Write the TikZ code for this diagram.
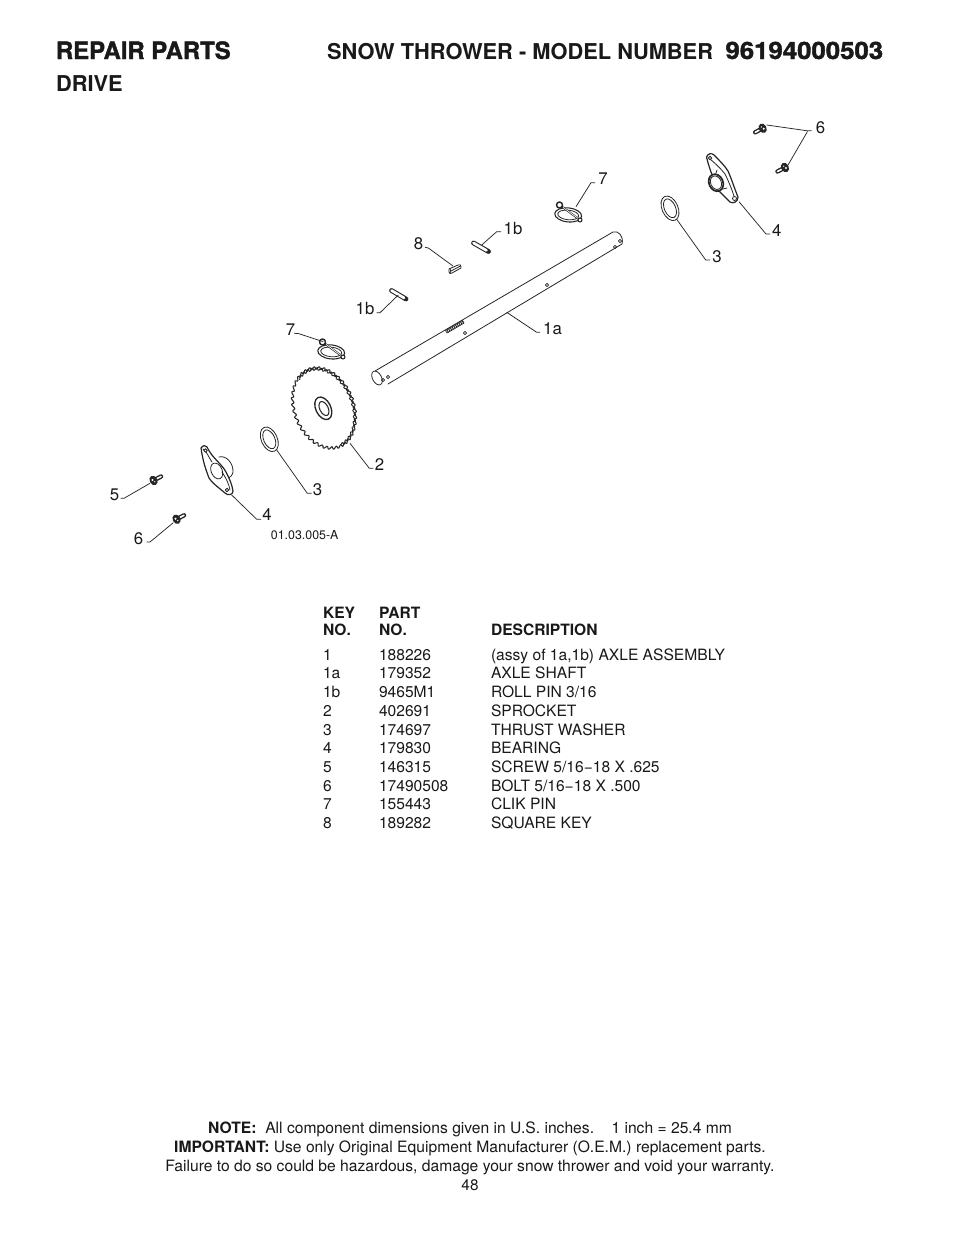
\documentclass[tikz,border=0pt]{standalone}
\usepackage{fontspec}
\usetikzlibrary{calc}
\setmainfont{TeX Gyre Heros}
\newfontfamily\heavy[BoldFeatures={FakeBold=1.6}]{TeX Gyre Heros}
\tikzset{
  part/.style={draw=black!85,line width=0.6pt,line join=round,line cap=round},
  leader/.style={draw=black!85,line width=0.55pt},
  txt/.style={anchor=base west,inner sep=0pt,outer sep=0pt,font=\fontsize{11.7pt}{14pt}\selectfont,text=black!90},
  txtb/.style={txt,font=\fontsize{11.7pt}{14pt}\selectfont\bfseries},
  callout/.style={anchor=center,inner sep=0pt,outer sep=1pt,font=\fontsize{12.6pt}{14pt}\selectfont,text=black!90},
  head/.style={anchor=base west,inner sep=0pt,outer sep=0pt,text=black!90,font=\fontsize{16.37pt}{18pt}\selectfont\bfseries},
  heavyhead/.style={head,font=\fontsize{17.9pt}{18pt}\selectfont\heavy\bfseries},
  foot/.style={anchor=base,inner sep=0pt,outer sep=0pt,text=black!90,font=\fontsize{11.73pt}{14pt}\selectfont},
  clikpin/.pic={
    \draw[part,line width=.8pt,rotate=-6] (-.5,3) ellipse [x radius=13.5,y radius=7];
    \draw[part,rotate=-6] (-.5,3) ellipse [x radius=10.5,y radius=4.8];
    \draw[part,line width=1.4pt] (-8,-6) -- (11,8);
    \draw[white,line width=.5pt] (-6,-4.6) -- (9,6.4);
    \draw[part,fill=white,line width=1.1pt] (-9.5,-7) circle (3);
    \draw[part,fill=white,line width=.8pt] (11,8) circle (2);
  },
  flatbolt/.pic={
    \draw[black!85,line width=3.3pt,line cap=round] (0,0) -- (7.5,-4);
    \draw[white,line width=1.2pt,line cap=round] (3.5,-1.9) -- (7.5,-4);
    \fill[black!85,rotate=28] (0,0) ellipse [x radius=3.8,y radius=5];
    \fill[white] (-1,-.5) circle (1.1);
    \fill[white] (1.3,1.3) circle (.7);
  },
}
\begin{document}
\begin{tikzpicture}[x=0.75pt,y=-0.75pt]
\useasboundingbox (0,0) rectangle (954,1235);
\fill[white] (0,0) rectangle (954,1235);
% headings
\node[heavyhead] (hrepair) at (56,59) {REPAIR PARTS};
\node[head] (hsnow) at (327,59) {SNOW THROWER - MODEL NUMBER};
\node[heavyhead] (hmodel) at (725.5,59) {\scalebox{1.08}[1]{96194000503}};
\node[head] (hdrive) at (56,91) {DRIVE};
% shaft
\draw[part] (375,371) -- (613,232) .. controls (618,230) and (624,236) .. (622,244) -- (388,384);
\draw[part,rotate around={28:(377,378)}] (377,378) ellipse [x radius=4.5,y radius=7.5];
\foreach \hx/\hy in {465/333,547/285,615/247,620/241,388/377,383/380}
  \draw[part,line width=.5pt] (\hx,\hy) circle (1.6);
\draw[part,fill=white,line width=.5pt] (445.5,330.5) -- (462.5,320.5) -- (464,323) -- (447,333) -- cycle;
\foreach \t in {0.08,0.18,...,0.98}
  \draw[part,line width=.7pt] ($(445.5,330.5)!\t!(462.5,320.5)$) -- ++(1.5,2.5);
% sprocket
\draw[part,line width=.8pt] plot[smooth,samples=281,domain=0:360,variable=\t]
  ({324+(29.5*cos(\t))*.927+(41.5*sin(\t))*.375+(1.4*sin(40*\t))*cos(\t)},
   {408-(29.5*cos(\t))*.375+(41.5*sin(\t))*.927+(1.4*sin(40*\t))*sin(\t)});
\draw[part,line width=.7pt] plot[smooth,domain=-115:85,samples=161,variable=\t]
  ({324+(28.5*cos(\t))*.927+(40.5*sin(\t))*.375-(1.4*sin(40*\t))*cos(\t)},
   {408-(28.5*cos(\t))*.375+(40.5*sin(\t))*.927-(1.4*sin(40*\t))*sin(\t)});
\draw[part,line width=1pt,rotate around={26:(323.3,408.3)}] (323.3,408.3) ellipse [x radius=7.5,y radius=12];
\draw[part,line width=.8pt,rotate around={26:(323.3,408.3)}] (323.8,408.8) ellipse [x radius=4.2,y radius=7.5];
% washers
\foreach \wx/\wy in {269.3/439.3,670/208.3}{
  \draw[part,rotate around={24:(\wx,\wy)}] (\wx,\wy) ellipse [x radius=8,y radius=13];
  \draw[part,rotate around={24:(\wx,\wy)}] (\wx,\wy) ellipse [x radius=5.6,y radius=10];
}
% left bearing
\draw[part] (219,457) .. controls (226,455) and (233.5,463) .. (233,472) .. controls (232.5,475) and (230,478) .. (227,479);
\draw[part,line width=.9pt,fill=white] (201,448) .. controls (203,445) and (206,445) .. (207,447)
  .. controls (212,458) and (222,464) .. (226,472) .. controls (229,478) and (232,484) .. (233,491)
  .. controls (233,495) and (228,496) .. (225,493) .. controls (218,487) and (212,483) .. (209,478)
  .. controls (206,470) and (203,462) .. cycle;
\draw[part] (203,449) .. controls (206,450) and (209,458) .. (212,462);
\draw[part] (222,472) .. controls (226,478) and (229,484) .. (230,490);
\draw[part,rotate around={24:(216.7,471)}] (216.7,471) ellipse [x radius=5.5,y radius=8.3];
\draw[part,fill=white] (205.5,450.5) circle (1.8);
\draw[part,fill=white] (227,490) circle (1.8);
% right bearing
\draw[part,line width=.9pt] (706.5,157) .. controls (708,153) and (712,153) .. (714,155)
  .. controls (719,160) and (725,166) .. (728,171) .. controls (732,180) and (735,190) .. (738,197)
  .. controls (738,202) and (733,204) .. (730,202) .. controls (726,198) and (722,194) .. (718,190)
  .. controls (714,180) and (709,168) .. cycle;
\draw[part] (710,159) .. controls (716,164) and (722,170) .. (725,174) .. controls (729,182) and (732,190) .. (734,196);
\draw[part,fill=white,line width=1.3pt,rotate around={24:(716,182.7)}] (716,182.7) ellipse [x radius=7,y radius=8.8];
\draw[part,rotate around={24:(716,182.7)}] (716,182.7) ellipse [x radius=5.3,y radius=7];
\draw[part] (716,173) -- (717,170) (723,189) -- (727,188);
\draw[part,fill=white] (710,158) circle (1.8);
\draw[part,fill=white] (734.5,198.5) circle (2);
% clik pins
\pic at (569,212) {clikpin};
\pic at (332,349) {clikpin};
% roll pins and key
\foreach \ax/\ay/\bx/\by in {473.5/243/488.5/251.5,391.5/290.5/406/299}{
  \draw[line width=3.6pt,black!85,line cap=round] (\ax,\ay) -- (\bx,\by);
  \draw[line width=2pt,white,line cap=round] (\ax,\ay) -- (\bx-2,\by-1.1);
}
\draw[part,fill=white] (449,269) -- (458,265) .. controls (460,264) and (461,265) .. (461,267) -- (461,268)
  -- (452,273) -- (450,273.5) .. controls (449,273) and (448.5,271) .. cycle;
\draw[part] (450,273.5) .. controls (451,272) and (451,270) .. (450,268.5) (451,271) -- (460.5,266);
% screws and bolts
\pic at (153.5,480.5) {flatbolt};
\pic at (176.5,519.3) {flatbolt};
\pic[rotate=180] at (762.7,128.3) {flatbolt};
\pic[rotate=180] at (785,167.5) {flatbolt};
% leader anchors on parts
\coordinate (p6a) at (766.7,125);
\coordinate (p6b) at (788,165);
\coordinate (p4a) at (739,201.7);
\coordinate (p3a) at (676.7,219.3);
\coordinate (p7a) at (576,206.7);
\coordinate (p1ba) at (481.7,245);
\coordinate (p8) at (453,266);
\coordinate (p1bb) at (398.3,295);
\coordinate (p7b) at (323.3,341.7);
\coordinate (p1a) at (506.7,312.3);
\coordinate (p2) at (350,443.3);
\coordinate (p3b) at (276.7,450);
\coordinate (p4b) at (231.7,495);
\coordinate (p5) at (150,483.3);
\coordinate (p6c) at (173.3,522.7);
% callout labels
\node[callout] (l6a) at (820.5,127.5) {6};
\node[callout] (l4a) at (776.7,230.5) {4};
\node[callout] (l3a) at (717,256.5) {3};
\node[callout] (l7a) at (603,178.5) {7};
\node[callout] (l1ba) at (513,228.5) {1b};
\node[callout] (l8) at (418.5,243.5) {8};
\node[callout] (l1bb) at (365,308.5) {1b};
\node[callout] (l7b) at (290.5,329.5) {7};
\node[callout] (l1a) at (552.5,329) {1a};
\node[callout] (l2) at (379.5,464.7) {2};
\node[callout] (l3b) at (317.5,489.5) {3};
\node[callout] (l4b) at (267,515) {4};
\node[callout] (l5) at (114.5,494.5) {5};
\node[callout] (l6c) at (138.5,538.5) {6};
% leaders
\draw[leader] (p6a) -- (806.7,130.7) -- (811.7,130.7);
\draw[leader] (p6b) -- (807.5,131.5);
\draw[leader] (p4a) -- (766,234) -- (770,234);
\draw[leader] (p3a) -- (705.7,260) -- (710,260);
\draw[leader] (p7a) -- (591,182.7) -- (595,182.7);
\draw[leader] (p1ba) -- (496.7,231.7) -- (501,231.7);
\draw[leader] (425,247.3) -- (428.3,248) -- (p8);
\draw[leader] (376.7,312.7) -- (380,312.7) -- (p1bb);
\draw[leader] (294,333.3) -- (298.3,333.5) -- (p7b);
\draw[leader] (p1a) -- (536.7,332.3) -- (540,332.3);
\draw[leader] (p2) -- (369.3,468.3) -- (373.3,468.3);
\draw[leader] (p3b) -- (307.3,493.3) -- (311.7,493.3);
\draw[leader] (p4b) -- (256.7,519.3) -- (261,519.3);
\draw[leader] (120.7,498.3) -- (124,498.3) -- (p5);
\draw[leader] (146.7,542) -- (150,542) -- (p6c);
\node[foot,anchor=center,font=\fontsize{9.3pt}{10pt}\selectfont] (ref) at (304.7,535) {01.03.005-A};
% table
\node[txtb] (kkey) at (323,618) {KEY};
\node[txtb] (kno) at (323,635.6) {NO.};
\node[txtb] (ppart) at (379,618) {PART};
\node[txtb] (pno) at (379,635.6) {NO.};
\node[txtb] (ddesc) at (491,635.6) {DESCRIPTION};
\foreach \k/\p/\d/\y in {
  1/188226/{(assy of 1a,1b) AXLE ASSEMBLY}/660.2,
  1a/179352/{AXLE SHAFT}/678.9,
  1b/9465M1/{ROLL PIN 3/16}/697.6,
  2/402691/{SPROCKET}/716.3,
  3/174697/{THRUST WASHER}/735,
  4/179830/{BEARING}/753.7,
  5/146315/{SCREW 5/16−18 X .625}/772.4,
  6/17490508/{BOLT 5/16−18 X .500}/791.1,
  7/155443/{CLIK PIN}/809.8,
  8/189282/{SQUARE KEY}/828.5}{
  \node[txt] at (323,\y) {\k};
  \node[txt] at (379,\y) {\p};
  \node[txt] at (491,\y) {\d};
}
% footer
\node[foot] (f1) at (470,1133.5) {\textbf{NOTE:}\ \ All component dimensions given in U.S. inches.\ \ \ \ 1 inch = 25.4 mm};
\node[foot] (f2) at (470,1152.3) {\textbf{IMPORTANT:} Use only Original Equipment Manufacturer (O.E.M.) replacement parts.};
\node[foot] (f3) at (470,1171.3) {Failure to do so could be hazardous, damage your snow thrower and void your warranty.};
\node[foot,font=\fontsize{11.5pt}{14pt}\selectfont] (f4) at (470,1190.3) {48};
\end{tikzpicture}
\end{document}
